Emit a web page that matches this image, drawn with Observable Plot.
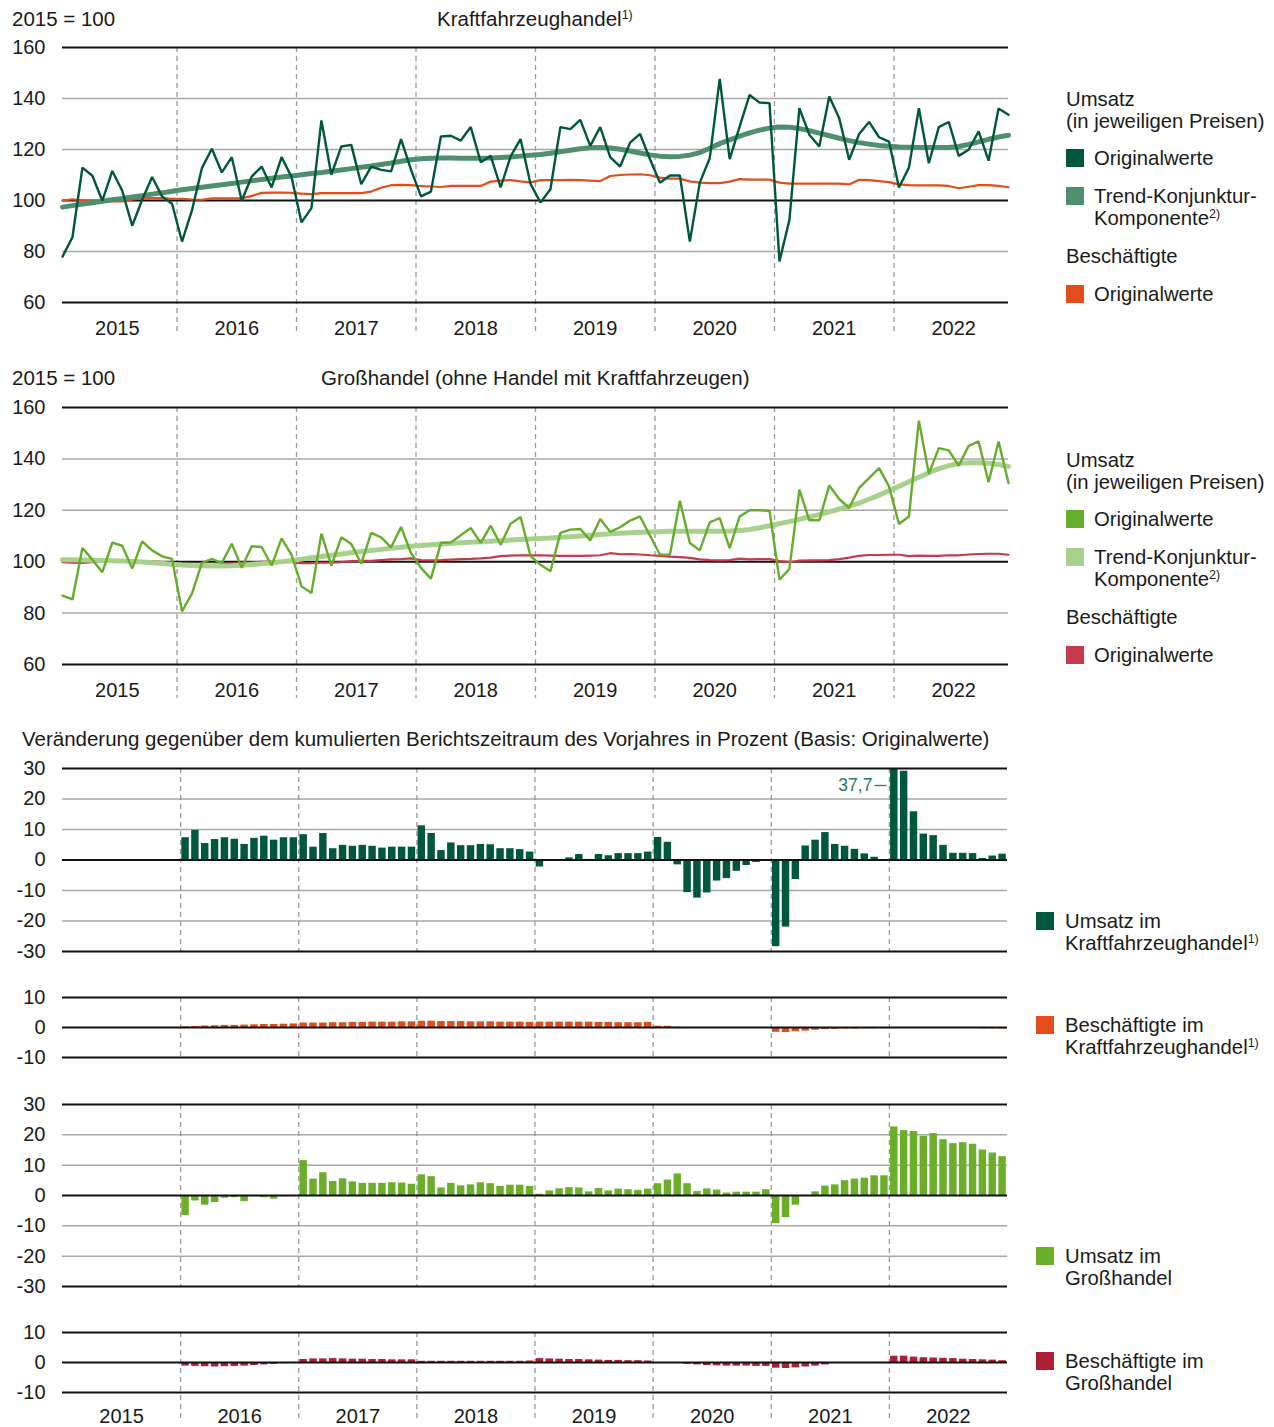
<!DOCTYPE html>
<html><head><meta charset="utf-8">
<script src="https://cdn.jsdelivr.net/npm/d3@7"></script>
<script src="https://cdn.jsdelivr.net/npm/@observablehq/plot@0.6"></script>
<style>
body{margin:0;background:#fff;font-family:"Liberation Sans",Arial,sans-serif;color:#1a1a1a}
#root{position:relative;width:1274px;height:1427px;overflow:hidden;background:#fff}
.abs{position:absolute;white-space:nowrap;line-height:22px}
.t{font-size:20.5px}
.lg{font-size:20.3px}
.sup{font-size:12.5px;position:relative;top:-7px}
.sw{position:absolute;width:18px;height:18px}
.pl{position:absolute;left:0}
</style></head><body><div id="root"></div>
<script>
const years = ["2015","2016","2017","2018","2019","2020","2021","2022"];

// Kraftfahrzeughandel, 2015 = 100, monthly Jan 2015 - Dec 2022
const kfzUmsatz = [
  78.0, 85.6,112.9,109.7, 99.9,111.6,103.8, 90.1,100.3,109.2,101.6, 98.7,
  83.9, 96.1,112.7,120.3,111.0,117.0, 99.9,109.4,113.3,105.1,117.0,109.2,
  91.4, 97.0,131.4,110.1,121.2,121.8,106.4,113.3,112.0,111.4,124.1,112.0,
 101.6,103.5,125.1,125.4,123.5,128.8,115.0,117.5,105.1,117.3,124.1,106.5,
  99.2,104.4,128.8,128.0,131.6,121.4,128.8,117.0,113.3,122.7,126.1,116.2,
 107.0,109.8,109.8, 83.9,107.0,116.6,147.7,116.2,129.0,141.4,138.4,138.2,
  76.1, 92.4,136.2,125.8,121.2,140.8,132.3,116.0,126.1,130.8,124.8,123.1,
 105.1,112.9,136.2,114.6,128.8,130.8,117.5,119.9,127.1,115.6,136.1,133.6];
const kfzTrend = [
  97.4, 98.0, 98.6, 99.1, 99.7,100.3,100.8,101.4,101.9,102.5,103.0,103.6,
 104.2,104.7,105.2,105.7,106.2,106.7,107.2,107.7,108.2,108.7,109.2,109.6,
 110.1,110.6,111.0,111.5,112.0,112.5,113.0,113.5,114.1,114.7,115.4,116.0,
 116.4,116.6,116.7,116.7,116.6,116.6,116.6,116.7,116.9,117.1,117.4,117.7,
 118.0,118.5,119.1,119.7,120.3,120.7,120.8,120.6,120.1,119.4,118.6,117.9,
 117.4,117.2,117.3,117.8,118.8,120.5,122.3,123.8,125.2,126.5,127.6,128.4,
 128.8,128.7,128.2,127.4,126.4,125.4,124.4,123.5,122.7,122.1,121.6,121.3,
 121.0,120.9,120.8,120.8,120.8,120.8,121.2,122.0,123.0,124.0,124.9,125.6];
const kfzBesch = [
 100.0,100.5,100.0, 99.7, 99.6, 99.6, 99.6,100.4,100.8,100.9,100.9,100.6,
 100.6,100.4,100.3,100.8,100.8,100.8,100.8,101.8,103.0,103.1,103.1,103.0,
 102.7,102.5,102.9,102.9,102.9,102.9,102.9,103.5,105.0,106.0,106.1,106.0,
 105.6,105.5,105.3,105.7,105.7,105.7,105.7,107.4,107.8,108.0,107.5,107.1,
 108.0,108.0,108.0,108.1,108.0,107.8,107.6,109.6,110.0,110.2,110.3,109.9,
 109.0,108.6,108.6,107.5,107.0,106.8,106.8,107.4,108.4,108.2,108.2,108.2,
 107.0,106.6,106.6,106.6,106.6,106.6,106.6,106.3,108.1,108.0,107.6,107.2,
 106.3,106.0,105.9,105.9,105.9,105.7,104.8,105.4,106.0,106.0,105.7,105.2];

// Großhandel (ohne Handel mit Kraftfahrzeugen), 2015 = 100
const ghUmsatz = [
  86.8, 85.3,105.3,100.8, 95.9,107.4,106.2, 97.3,107.9,104.4,102.1,101.1,
  80.7, 87.6, 99.5,101.1, 99.5,107.0, 97.6,106.0,105.7, 98.5,109.1,102.7,
  90.4, 87.8,110.9, 98.5,109.5,106.9, 99.2,111.2,109.5,105.6,113.5,103.4,
  97.6, 93.4,107.3,107.5,110.3,113.1,107.3,114.0,106.6,114.8,117.4,102.2,
  98.8, 96.3,111.2,112.5,112.7,108.3,116.6,111.6,113.4,116.0,117.6,110.1,
 102.7,102.7,123.7,107.3,104.4,115.3,117.0,105.3,117.6,120.0,120.0,119.8,
  93.0, 97.2,128.0,116.1,116.1,129.7,124.4,120.9,128.7,132.5,136.4,129.3,
 114.7,117.6,154.9,134.2,144.2,143.3,137.3,145.1,146.8,130.9,146.8,130.6];
const ghTrend = [
 100.8,100.8,100.7,100.6,100.5,100.4,100.3,100.1, 99.9, 99.6, 99.3, 99.0,
  98.7, 98.5, 98.4, 98.3, 98.3, 98.4, 98.6, 98.9, 99.2, 99.6,100.0,100.5,
 101.0,101.5,102.0,102.5,103.0,103.5,104.0,104.4,104.8,105.2,105.6,106.0,
 106.3,106.6,106.9,107.2,107.4,107.6,107.8,108.0,108.2,108.4,108.6,108.8,
 109.0,109.2,109.5,109.7,110.0,110.3,110.6,110.9,111.1,111.3,111.5,111.6,
 111.7,111.8,111.8,111.8,111.8,111.8,111.8,111.9,112.1,112.5,113.2,114.0,
 114.8,115.6,116.5,117.4,118.3,119.4,120.5,121.6,122.8,124.3,125.9,127.6,
 129.3,131.1,132.9,134.6,136.2,137.4,138.2,138.5,138.5,138.3,137.8,137.1];
const ghBesch = [
  99.8, 99.6, 99.5, 99.8,100.0,100.0,100.0,100.1,100.1,100.0, 99.8, 99.6,
  99.0, 98.7, 98.8, 98.8, 99.0, 99.3, 99.6, 99.7, 99.9,100.0,100.0, 99.8,
  99.4, 99.4, 99.6, 99.6, 99.8,100.2,100.3,100.3,100.6,100.9,101.0,101.3,
 100.6,100.5,100.6,100.8,101.0,101.1,101.3,101.6,102.2,102.4,102.5,102.5,
 102.5,102.4,102.3,102.3,102.3,102.4,102.5,103.3,102.9,103.0,102.8,102.5,
 102.3,102.0,101.8,101.5,100.9,100.6,100.5,100.6,101.2,100.9,101.0,101.0,
 100.2, 99.8,100.4,100.5,100.5,100.6,101.0,101.6,102.3,102.6,102.6,102.7,
 102.7,102.2,102.4,102.3,102.3,102.5,102.5,102.8,103.0,103.1,103.1,102.7];

// Veränderung gegenüber dem kumulierten Berichtszeitraum des Vorjahres in %, Jan 2016 - Dec 2022
const vjKfzUmsatz = [
   7.3,  9.7,  5.4,  6.7,  7.3,  6.8,  5.1,  7.1,  7.8,  6.5,  7.3,  7.3,
   8.3,  4.2,  8.7,  3.7,  4.8,  4.5,  4.8,  4.5,  3.9,  4.2,  4.2,  4.2,
  11.2,  8.7,  3.1,  5.6,  4.7,  4.7,  5.1,  5.0,  3.7,  3.7,  3.4,  2.6,
  -2.3, -0.3,  0.0,  0.7,  1.8,  0.2,  1.8,  1.4,  2.1,  2.1,  2.1,  2.6,
   7.4,  5.8, -1.6,-10.7,-12.5,-10.8, -6.9, -6.1, -3.7, -1.8, -0.8, -0.1,
 -28.4,-22.0, -6.4,  4.6,  6.5,  9.0,  5.1,  4.5,  3.5,  2.0,  0.9,  0.0,
  37.7, 29.1, 15.8,  8.5,  8.0,  4.8,  2.2,  2.2,  2.1,  0.5,  1.3,  1.9];
const vjKfzBesch = [
   0.2,  0.3,  0.5,  0.6,  0.7,  0.7,  0.8,  0.9,  1.0,  1.0,  1.1,  1.2,
   1.5,  1.5,  1.5,  1.6,  1.6,  1.7,  1.7,  1.8,  1.8,  1.8,  1.9,  1.9,
   2.1,  2.1,  2.0,  2.0,  2.0,  1.9,  1.9,  1.9,  1.8,  1.8,  1.8,  1.7,
   1.8,  1.8,  1.8,  1.8,  1.8,  1.8,  1.7,  1.7,  1.6,  1.6,  1.6,  1.7,
   0.4,  0.4,  0.1,  0.0,  0.0,  0.0,  0.0,  0.0,  0.0,  0.0,  0.0,  0.0,
  -1.6, -1.7, -1.4, -1.2, -0.9, -0.7, -0.6, -0.5, -0.5, -0.4, -0.4, -0.4,
   0.0,  0.0,  0.0,  0.0, -0.1, -0.1, -0.2, -0.2, -0.3, -0.4, -0.4, -0.5];
const vjGhUmsatz = [
  -6.6, -1.8, -3.2, -2.3, -0.9, -0.7, -2.0, -0.4, -0.7, -1.2, -0.4, -0.2,
  11.5,  5.4,  7.5,  4.6,  5.5,  4.5,  4.0,  4.0,  4.0,  4.2,  4.1,  3.7,
   6.8,  6.2,  2.5,  4.0,  3.2,  3.5,  4.2,  3.9,  3.0,  3.4,  3.4,  3.0,
   0.4,  1.5,  2.2,  2.6,  2.5,  1.2,  2.3,  1.5,  2.1,  1.9,  1.7,  2.1,
   3.9,  5.1,  7.1,  3.9,  1.3,  2.2,  1.8,  0.8,  1.1,  1.1,  1.1,  1.9,
  -9.3, -7.3, -3.2,  0.0,  1.2,  3.1,  3.5,  4.9,  5.4,  5.7,  6.5,  6.5,
  22.6, 21.4, 21.1, 19.5, 20.4, 18.4, 17.1, 17.4, 16.9, 15.0, 14.0, 12.8];
const vjGhBesch = [
  -1.2, -1.3, -1.4, -1.5, -1.4, -1.3, -1.2, -1.0, -0.8, -0.6, -0.4, -0.2,
   1.0,  1.2,  1.2,  1.3,  1.2,  1.1,  1.1,  1.0,  1.0,  0.9,  0.9,  0.9,
   0.4,  0.4,  0.4,  0.4,  0.4,  0.4,  0.4,  0.4,  0.4,  0.4,  0.4,  0.5,
   1.3,  1.2,  1.1,  1.0,  1.0,  0.9,  0.8,  0.7,  0.7,  0.6,  0.6,  0.5,
   0.0, -0.1, -0.3, -0.6, -0.8, -1.0, -1.1, -1.2, -1.2, -1.2, -1.3, -1.3,
  -1.9, -2.0, -1.8, -1.5, -1.2, -0.8, -0.3, -0.1,  0.0,  0.0,  0.0,  0.0,
   2.1,  2.1,  1.8,  1.6,  1.5,  1.4,  1.3,  1.1,  1.0,  0.9,  0.8,  0.6];

const C = {
  kfzOrig: "#00573d", kfzTrend: "#4f8e6f", kfzBesch: "#e24e1b",
  ghOrig: "#66ad2b", ghTrend: "#a9d18e", ghBesch: "#c63a4c",
  barKfzU: "#00573d", barKfzB: "#e24e1b", barGhU: "#6aae2a", barGhB: "#ab1f37",
  grid: "#a8a8a8", axis: "#111", dash: "#9a9a9a", label: "#2a7859"
};
const FONT = "'Liberation Sans', Arial, sans-serif";
const root = document.getElementById("root");
const baseStyle = {fontFamily: FONT, fontSize: "20px", color: "#1a1a1a", background: "none", overflow: "visible"};
const plainNum = d => String(d);

function place(svg, top) {
  const d = document.createElement("div");
  d.className = "pl"; d.style.top = top + "px";
  d.appendChild(svg); root.appendChild(d);
}
function html(s, x, y, cls) {
  const d = document.createElement("div");
  d.className = "abs " + cls; d.style.left = x + "px"; d.style.top = (y - 11) + "px";
  d.innerHTML = s; root.appendChild(d);
}
function swatch(x, yc, col) {
  const d = document.createElement("div");
  d.className = "sw"; d.style.left = x + "px"; d.style.top = (yc - 9) + "px"; d.style.background = col;
  root.appendChild(d);
}

function lineChart(top, ums, trend, besch, cO, cT, cB, pad, ext) {
  const rows = a => a.map((v, i) => ({i, v}));
  const yearPos = years.map((y, k) => k * 12 + 5.5);
  const bounds = d3.range(1, 8).map(k => k * 12 - 0.5);
  const svg = Plot.plot({
    width: 1010, height: 345, marginLeft: 62, marginRight: 2, marginTop: 47, marginBottom: 345 - pad,
    x: {domain: [0, 95]}, y: {domain: [60, 160]},
    style: baseStyle,
    marks: [
      Plot.ruleY([80, 120, 140], {stroke: C.grid, strokeWidth: 1.5}),
      Plot.ruleX(bounds, {y1: 160, y2: 60, insetBottom: -ext, stroke: C.dash, strokeWidth: 1.3, strokeDasharray: "5,4"}),
      Plot.ruleY([60, 100, 160], {stroke: C.axis, strokeWidth: 2}),
      Plot.axisY({ticks: [60, 80, 100, 120, 140, 160], tickSize: 0, tickPadding: 17, fontSize: 20, label: null, tickFormat: plainNum}),
      Plot.axisX(yearPos, {tickSize: 0, tickPadding: 18, fontSize: 20, label: null, tickFormat: d => years[Math.round((d - 5.5) / 12)]}),
      Plot.line(rows(besch), {x: "i", y: "v", stroke: cB, strokeWidth: 2.2}),
      Plot.line(rows(trend), {x: "i", y: "v", stroke: cT, strokeWidth: 5}),
      Plot.line(rows(ums), {x: "i", y: "v", stroke: cO, strokeWidth: 2.4, strokeLinejoin: "miter"})
    ]
  });
  place(svg, top);
}

lineChart(0, kfzUmsatz, kfzTrend, kfzBesch, C.kfzOrig, C.kfzTrend, C.kfzBesch, 302, 33);
lineChart(360, ghUmsatz, ghTrend, ghBesch, C.ghOrig, C.ghTrend, C.ghBesch, 304, 34);

function barPanel(o) {
  const data = o.values.map((v, k) => ({i: k + 12, v}));
  const [lo, hi] = o.domain;
  const marks = [
    Plot.ruleY(o.gray, {stroke: C.grid, strokeWidth: 1.5}),
    Plot.ruleX(d3.range(1, 8).map(k => k * 12), {y1: hi, y2: lo, insetBottom: -(o.ext || 0), stroke: C.dash, strokeWidth: 1.3, strokeDasharray: "5,4"}),
    Plot.rect(data, {x1: "i", x2: d => d.i + 1, y1: 0, y2: "v", fill: o.color, insetLeft: 1.2, insetRight: 1.2, clip: true}),
    Plot.ruleY([lo, 0, hi], {stroke: C.axis, strokeWidth: 2}),
    Plot.axisY({ticks: o.ticks, tickSize: 0, tickPadding: 17, fontSize: 20, label: null, tickFormat: plainNum})
  ];
  if (o.axisX) marks.push(Plot.axisX(years.map((y, k) => k * 12 + 6), {tickSize: 0, tickPadding: 16, fontSize: 20, label: null, tickFormat: d => years[Math.round((d - 6) / 12)]}));
  if (o.note) {
    const big = data.filter(d => d.v > hi);
    marks.push(Plot.text(big, {x: "i", y: () => hi, text: d => String(d.v).replace(".", ","), dx: -17, dy: 17, textAnchor: "end", fill: C.label, fontSize: 17.5}));
    marks.push(Plot.ruleY(big, {y: () => hi, x1: d => d.i - 1.45, x2: d => d.i - 0.25, dy: 17, stroke: C.label, strokeWidth: 1.3}));
  }
  const svg = Plot.plot({
    width: 1010, height: o.height, marginLeft: 62, marginRight: 3, marginTop: o.mt, marginBottom: o.mb,
    x: {domain: [0, 96], axis: null}, y: {domain: o.domain, axis: null},
    style: baseStyle, marks
  });
  place(svg, o.top);
}

barPanel({top: 750, height: 210, mt: 18, mb: 9, domain: [-30, 30], ticks: [-30, -20, -10, 0, 10, 20, 30], gray: [-20, -10, 10, 20], values: vjKfzUmsatz, color: C.barKfzU, note: true});
barPanel({top: 980, height: 90, mt: 17, mb: 13, domain: [-10, 10], ticks: [-10, 0, 10], gray: [], values: vjKfzBesch, color: C.barKfzB});
barPanel({top: 1090, height: 210, mt: 14, mb: 14, domain: [-30, 30], ticks: [-30, -20, -10, 0, 10, 20, 30], gray: [-20, -10, 10, 20], values: vjGhUmsatz, color: C.barGhU});
barPanel({top: 1320, height: 107, mt: 12, mb: 35, domain: [-10, 10], ticks: [-10, 0, 10], gray: [], values: vjGhBesch, color: C.barGhB, axisX: true, ext: 30});

// Titles
html("2015 = 100", 12, 19, "t");
html("Kraftfahrzeughandel<span class='sup'>1)</span>", 437, 19, "t");
html("2015 = 100", 12, 378, "t");
html("Großhandel (ohne Handel mit Kraftfahrzeugen)", 321, 378, "t");
html("Veränderung gegenüber dem kumulierten Berichtszeitraum des Vorjahres in Prozent (Basis: Originalwerte)", 22, 739, "t");

// Legends for the line charts
function lineLegend(off, cO, cT, cB) {
  html("Umsatz", 1066, 99 + off, "lg");
  html("(in jeweiligen Preisen)", 1066, 121 + off, "lg");
  swatch(1066, 158 + off, cO); html("Originalwerte", 1094, 158 + off, "lg");
  swatch(1066, 196 + off, cT); html("Trend-Konjunktur-", 1094, 196 + off, "lg");
  html("Komponente<span class='sup'>2)</span>", 1094, 218 + off, "lg");
  html("Beschäftigte", 1066, 256 + off, "lg");
  swatch(1066, 294 + off, cB); html("Originalwerte", 1094, 294 + off, "lg");
}
lineLegend(0, C.kfzOrig, C.kfzTrend, C.kfzBesch);
lineLegend(361, C.ghOrig, C.ghTrend, C.ghBesch);

// Legends for the bar panels
function barLegend(yc, col, l1, l2) {
  swatch(1036, yc, col);
  html(l1, 1065, yc, "lg");
  html(l2, 1065, yc + 22, "lg");
}
barLegend(921, C.barKfzU, "Umsatz im", "Kraftfahrzeughandel<span class='sup'>1)</span>");
barLegend(1025, C.barKfzB, "Beschäftigte im", "Kraftfahrzeughandel<span class='sup'>1)</span>");
barLegend(1256, C.barGhU, "Umsatz im", "Großhandel");
barLegend(1361, C.barGhB, "Beschäftigte im", "Großhandel");
</script></body></html>
